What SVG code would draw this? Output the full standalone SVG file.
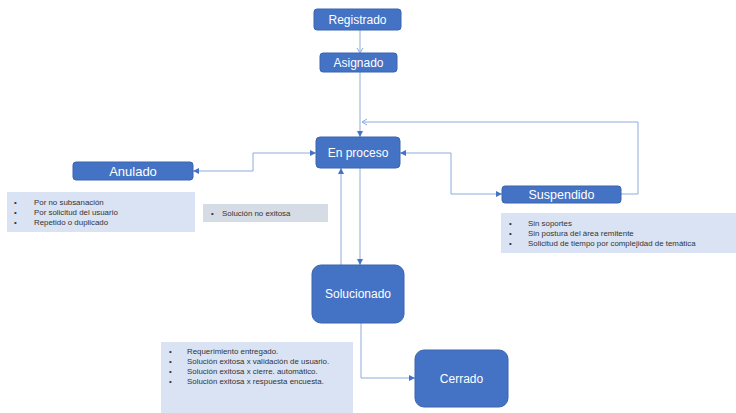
<svg xmlns="http://www.w3.org/2000/svg" width="736" height="413" viewBox="0 0 736 413">
<style>
.node{fill:#4472C4;stroke:#3A64AE;stroke-width:1}
.nt{fill:#FFFFFF;font-family:"Liberation Sans",Arial,sans-serif;font-size:12px;text-anchor:middle;dominant-baseline:central}
.box{fill:#DAE3F3}
.gbox{fill:#D6DCE5}
.bt{fill:#333333;font-family:"Liberation Sans",Arial,sans-serif;font-size:7.9px;dominant-baseline:central}
.c{fill:none;stroke:#8FAADC;stroke-width:1}
</style>
<defs>
<marker id="ah" markerUnits="userSpaceOnUse" markerWidth="7" markerHeight="6" refX="6" refY="3" orient="auto-start-reverse">
<path d="M0,0 L6,3 L0,6 Z" fill="#4472C4"/>
</marker>
<marker id="oa" markerUnits="userSpaceOnUse" markerWidth="8" markerHeight="8" refX="6" refY="4" orient="auto">
<path d="M1,1 L6,4 L1,7" fill="none" stroke="#8FAADC" stroke-width="1"/>
</marker>
</defs>
<rect width="736" height="413" fill="#FFFFFF"/>
<g id="connectors">
<path class="c" d="M360,30 V53" marker-end="url(#oa)"/>
<path class="c" d="M360,72 V137" marker-end="url(#ah)"/>
<path class="c" d="M621,194 H638 V122 H362" marker-end="url(#oa)"/>
<path class="c" d="M316,153 H253 V171 H193" marker-start="url(#ah)" marker-end="url(#ah)"/>
<path class="c" d="M400,153 H451 V194 H502" marker-start="url(#ah)" marker-end="url(#ah)"/>
<path class="c" d="M360,168 V265" marker-end="url(#ah)"/>
<path class="c" d="M341,265 V168" marker-end="url(#ah)"/>
<path class="c" d="M361,323 V378 H415" marker-end="url(#ah)"/>
</g>
<g id="registrado">
<rect class="node" x="314" y="9" width="87" height="21" rx="3"/>
<text class="nt" x="357.5" y="19.5">Registrado</text>
</g>
<g id="asignado">
<rect class="node" x="320" y="53" width="77" height="19" rx="3"/>
<text class="nt" x="358.5" y="62.5">Asignado</text>
</g>
<g id="en-proceso">
<rect class="node" x="316" y="137" width="84" height="31" rx="4"/>
<text class="nt" x="358" y="152.5">En proceso</text>
</g>
<g id="anulado">
<rect class="node" x="73" y="162" width="120" height="18" rx="3"/>
<text class="nt" x="133" y="171" style="font-size:13px">Anulado</text>
</g>
<g id="suspendido">
<rect class="node" x="502" y="186" width="119" height="17" rx="3"/>
<text class="nt" x="561.5" y="194.5" style="font-size:12.5px">Suspendido</text>
</g>
<g id="solucionado">
<rect class="node" x="312" y="265" width="92" height="58" rx="9"/>
<text class="nt" x="358" y="294">Solucionado</text>
</g>
<g id="cerrado">
<rect class="node" x="415" y="350" width="93" height="57" rx="9"/>
<text class="nt" x="461.5" y="378.5">Cerrado</text>
</g>
<g id="anulado-notes">
<rect class="box" x="7" y="192" width="188" height="40"/>
<text class="bt" x="14" y="202">•</text><text class="bt" x="34" y="202">Por no subsanación</text>
<text class="bt" x="14" y="212">•</text><text class="bt" x="34" y="212">Por solicitud del usuario</text>
<text class="bt" x="14" y="222">•</text><text class="bt" x="34" y="222">Repetido  o duplicado</text>
</g>
<g id="no-exitosa-note">
<rect class="gbox" x="203" y="204" width="125" height="18"/>
<text class="bt" x="211" y="213">•</text><text class="bt" x="222" y="213">Solución no exitosa</text>
</g>
<g id="suspendido-notes">
<rect class="box" x="501" y="213" width="235" height="40"/>
<text class="bt" x="509" y="223">•</text><text class="bt" x="528" y="223">Sin soportes</text>
<text class="bt" x="509" y="233">•</text><text class="bt" x="528" y="233">Sin postura del área remitente</text>
<text class="bt" x="509" y="243">•</text><text class="bt" x="528" y="243">Solicitud de tiempo  por complejidad  de temática</text>
</g>
<g id="solucionado-notes">
<rect class="box" x="161" y="342" width="192" height="71"/>
<text class="bt" x="169" y="351">•</text><text class="bt" x="187" y="351">Requerimiento  entregado.</text>
<text class="bt" x="169" y="361">•</text><text class="bt" x="187" y="361">Solución exitosa x validación  de usuario.</text>
<text class="bt" x="169" y="371">•</text><text class="bt" x="187" y="371">Solución exitosa  x cierre.  automático.</text>
<text class="bt" x="169" y="381">•</text><text class="bt" x="187" y="381">Solución exitosa x respuesta  encuesta.</text>
</g>
</svg>
